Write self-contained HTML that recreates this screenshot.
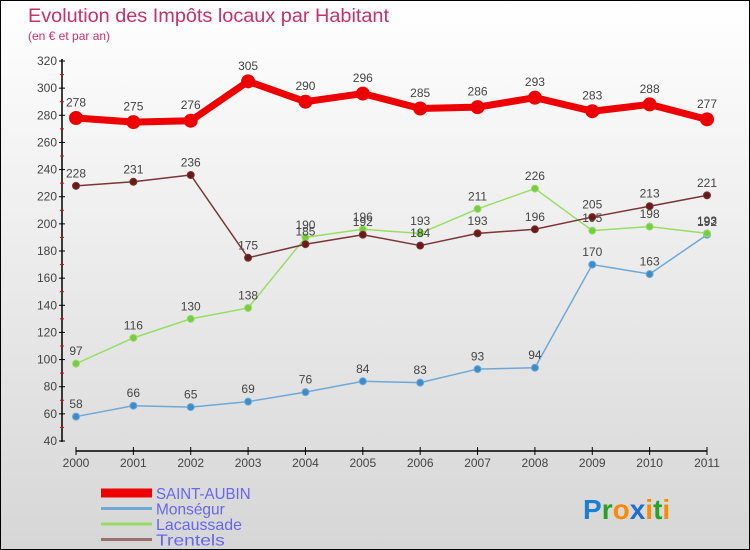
<!DOCTYPE html>
<html><head><meta charset="utf-8"><style>
body{margin:0;}
#c{position:relative;width:748px;height:548px;border:1px solid #000;background:linear-gradient(#ffffff,#d6d6d6);overflow:hidden;font-family:"Liberation Sans",sans-serif;}
svg{position:absolute;left:0;top:0;}
</style></head><body>
<div id="c">
<svg id="s" width="750" height="550">
<text x="27" y="21" font-size="19" fill="#c8306a" textLength="361" lengthAdjust="spacingAndGlyphs">Evolution des Impôts locaux par Habitant</text>
<text x="27" y="39" font-size="12" fill="#c8306a">(en € et par an)</text>
<text x="582" y="518" font-size="28" font-weight="bold" font-family="Liberation Sans, sans-serif"><tspan fill="#1a7fd0">P</tspan><tspan fill="#2aa02a">r</tspan><tspan fill="#ff8a00">o</tspan><tspan fill="#1a6fd0">x</tspan><tspan fill="#ff8a00">i</tspan><tspan fill="#2aa02a">t</tspan><tspan fill="#ff8a00">i</tspan></text>
</svg>
</div>
<script>
const years=["2000","2001","2002","2003","2004","2005","2006","2007","2008","2009","2010","2011"];
const yTicks=[40,60,80,100,120,140,160,180,200,220,240,260,280,300,320];
const saintAubin=[278,275,276,305,290,296,285,286,293,283,288,277];
const monsegur=[58,66,65,69,76,84,83,93,94,170,163,192];
const lacaussade=[97,116,130,138,190,196,193,211,226,195,198,193];
const trentels=[228,231,236,175,185,192,184,193,196,205,213,221];
const seriesNames=["SAINT-AUBIN","Monségur","Lacaussade","Trentels"];

const NS="http://www.w3.org/2000/svg";
const svg=document.getElementById('s');
function X(i){return 75+i*(706-75)/(years.length-1);}
function Y(v){return 440-(v-40)*380/280;}
function mk(t,a){const e=document.createElementNS(NS,t);for(const k in a)e.setAttribute(k,a[k]);svg.appendChild(e);return e;}

let ax=mk('line',{x1:61,y1:58,x2:61,y2:441,stroke:'#000','stroke-width':1.5});


yTicks.forEach((v,i)=>{
  let t=mk('line',{x1:58,y1:Y(v),x2:64,y2:Y(v),stroke:'#000'});
  
  
  if(i<yTicks.length-1){let m=mk('line',{x1:59,y1:Y(v+10),x2:63,y2:Y(v+10),stroke:'#e00'});
  
  }
  let l=mk('text',{x:56,y:Y(v)+4,'font-size':12,'text-anchor':'end',fill:'#444'});
  l.textContent=v;
  
  
});
let xa=mk('line',{x1:75,y1:450,x2:706,y2:450,stroke:'#000','stroke-width':1.5});


years.forEach((y,i)=>{
  let t=mk('line',{x1:X(i),y1:446,x2:X(i),y2:454,stroke:'#000'});
  
  
  let l=mk('text',{x:X(i),y:466,'font-size':12,'text-anchor':'middle',fill:'#444'});
  l.textContent=y;
  
  
});

function series(data,color,dot,w,r,name){
  let p=mk('polyline',{points:data.map((v,i)=>X(i)+','+Y(v)).join(' '),fill:'none',stroke:color,'stroke-width':w,'stroke-linejoin':'round'});
  
  
  data.forEach((v,i)=>{
    let c=mk('circle',{cx:X(i),cy:Y(v),r:r,fill:dot,stroke:color,'stroke-width':1});
    
    
    let t=mk('text',{x:X(i),y:Y(v)-(r+5),'font-size':12,'text-anchor':'middle',fill:'#444'});
    t.textContent=v;
    
    
  });
}
series(monsegur,'#6fa8d6','#3a8ccc',1.5,3.5,'monsegur');
series(lacaussade,'#99dd66','#77cc44',1.5,3.5,'lacaussade');
series(trentels,'#7a3535','#6a1a1a',1.5,3.5,'trentels');
series(saintAubin,'#ee0000','#ee0000',7,6.5,'saint-aubin');

const legColors=['#ee0000','#6fa8d6','#99dd66','#997070'];
const legW=[9,3,3,3];
seriesNames.forEach((n,i)=>{
  let y=492+i*15.5;
  let l=mk('line',{x1:100,y1:y,x2:151,y2:y,stroke:legColors[i],'stroke-width':legW[i]});
  
  
  let t=mk('text',{x:155,y:y+6,'font-size':16,fill:'#6666ee',textLength:n.length*8.6,lengthAdjust:'spacingAndGlyphs'});
  t.textContent=n;
  
  
});
</script>
</body></html>
